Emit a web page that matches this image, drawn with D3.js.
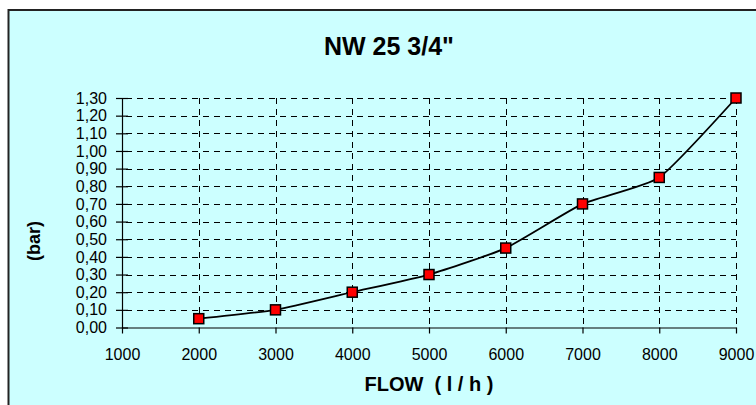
<!DOCTYPE html>
<html>
<head>
<meta charset="utf-8">
<script src="https://cdn.jsdelivr.net/npm/d3@7"></script>
<style>
  body { margin: 0; background: #fff; }
  svg { display: block; font-family: "Liberation Sans", Arial, sans-serif; }
</style>
</head>
<body>
<svg id="chart" width="756" height="405"></svg>
<script>
// flow (l/h) and pressure loss (bar)
var flow = [2000, 3000, 4000, 5000, 6000, 7000, 8000, 9000];
var pressure = [0.05, 0.10, 0.20, 0.30, 0.45, 0.70, 0.85, 1.30];

// axis ticks
var xTicks = [1000, 2000, 3000, 4000, 5000, 6000, 7000, 8000, 9000];
var yTicks = [0, 0.1, 0.2, 0.3, 0.4, 0.5, 0.6, 0.7, 0.8, 0.9, 1.0, 1.1, 1.2, 1.3];

var title = "NW 25 3/4\"";
var xTitle = "FLOW  ( l / h )";
var yTitle = "(bar)";

var svg = d3.select("#chart");

// chart area background, it runs past the right and bottom edge
svg.append("rect")
    .attr("x", 8.5)
    .attr("y", 10)
    .attr("width", 800)
    .attr("height", 500)
    .attr("fill", "#ccffff")
    .attr("stroke", "#222")
    .attr("stroke-width", 2);

var x = d3.scaleLinear().domain([1000, 9000]).range([122, 736]);
var y = d3.scaleLinear().domain([0, 1.3]).range([327.5, 98]);

// comma as decimal separator
var fmt = d => d.toFixed(2).replace(".", ",");

// dashed grid
var grid = svg.append("g")
    .attr("stroke", "#000")
    .attr("stroke-width", 1)
    .attr("stroke-dasharray", "6,5")
    .attr("shape-rendering", "crispEdges");

grid.selectAll(".h")
    .data(yTicks.filter(d => d > 0))
    .enter()
    .append("line")
    .attr("x1", x(1000) + 4)
    .attr("x2", x(9000))
    .attr("y1", d => Math.round(y(d)) + 0.5)
    .attr("y2", d => Math.round(y(d)) + 0.5);

grid.selectAll(".v")
    .data(xTicks.filter(d => d > 1000))
    .enter()
    .append("line")
    .attr("x1", d => Math.round(x(d)) + 0.5)
    .attr("x2", d => Math.round(x(d)) + 0.5)
    .attr("y1", y(1.3))
    .attr("y2", y(0));

// y axis, ticks cross the line
var yAxis = svg.append("g")
    .attr("transform", "translate(" + x(1000) + ",0)")
    .call(d3.axisLeft(y).tickValues(yTicks).tickFormat(fmt).tickSize(6).tickSizeOuter(0).tickPadding(9));
yAxis.selectAll(".tick line").attr("x2", -6).attr("x1", 6);

// x axis
var xAxis = svg.append("g")
    .attr("transform", "translate(0," + y(0) + ")")
    .call(d3.axisBottom(x).tickValues(xTicks).tickFormat(d3.format("d")).tickSize(6).tickSizeOuter(0).tickPadding(15));

svg.selectAll(".domain, .tick line")
    .attr("stroke", "#000")
    .attr("stroke-width", 1.2);
svg.selectAll(".tick text")
    .attr("font-size", 16)
    .attr("font-family", "Liberation Sans, Arial, sans-serif")
    .attr("fill", "#000");

// the curve (Excel smoothed line)
var points = flow.map((f, i) => [f, pressure[i]]);
svg.append("path")
    .datum(points)
    .attr("fill", "none")
    .attr("stroke", "#000")
    .attr("stroke-width", 1.8)
    .attr("d", d3.line().x(d => x(d[0])).y(d => y(d[1])).curve(d3.curveCardinal.tension(0.5)));

svg.selectAll(".marker")
    .data(points)
    .enter()
    .append("rect")
    .attr("x", d => x(d[0]) - 5)
    .attr("y", d => y(d[1]) - 5)
    .attr("width", 10)
    .attr("height", 10)
    .attr("fill", "#ff0000")
    .attr("stroke", "#000")
    .attr("stroke-width", 1.5);

// titles
svg.append("text")
    .attr("x", 389)
    .attr("y", 55)
    .attr("text-anchor", "middle")
    .attr("font-size", 25)
    .attr("font-weight", "bold")
    .text(title);

svg.append("text")
    .attr("x", 429)
    .attr("y", 391)
    .attr("text-anchor", "middle")
    .attr("font-size", 20)
    .attr("font-weight", "bold")
    .attr("xml:space", "preserve")
    .style("white-space", "pre")
    .text(xTitle);

svg.append("text")
    .attr("transform", "translate(40,241) rotate(-90)")
    .attr("text-anchor", "middle")
    .attr("font-size", 18)
    .attr("font-weight", "bold")
    .text(yTitle);
</script>
</body>
</html>
